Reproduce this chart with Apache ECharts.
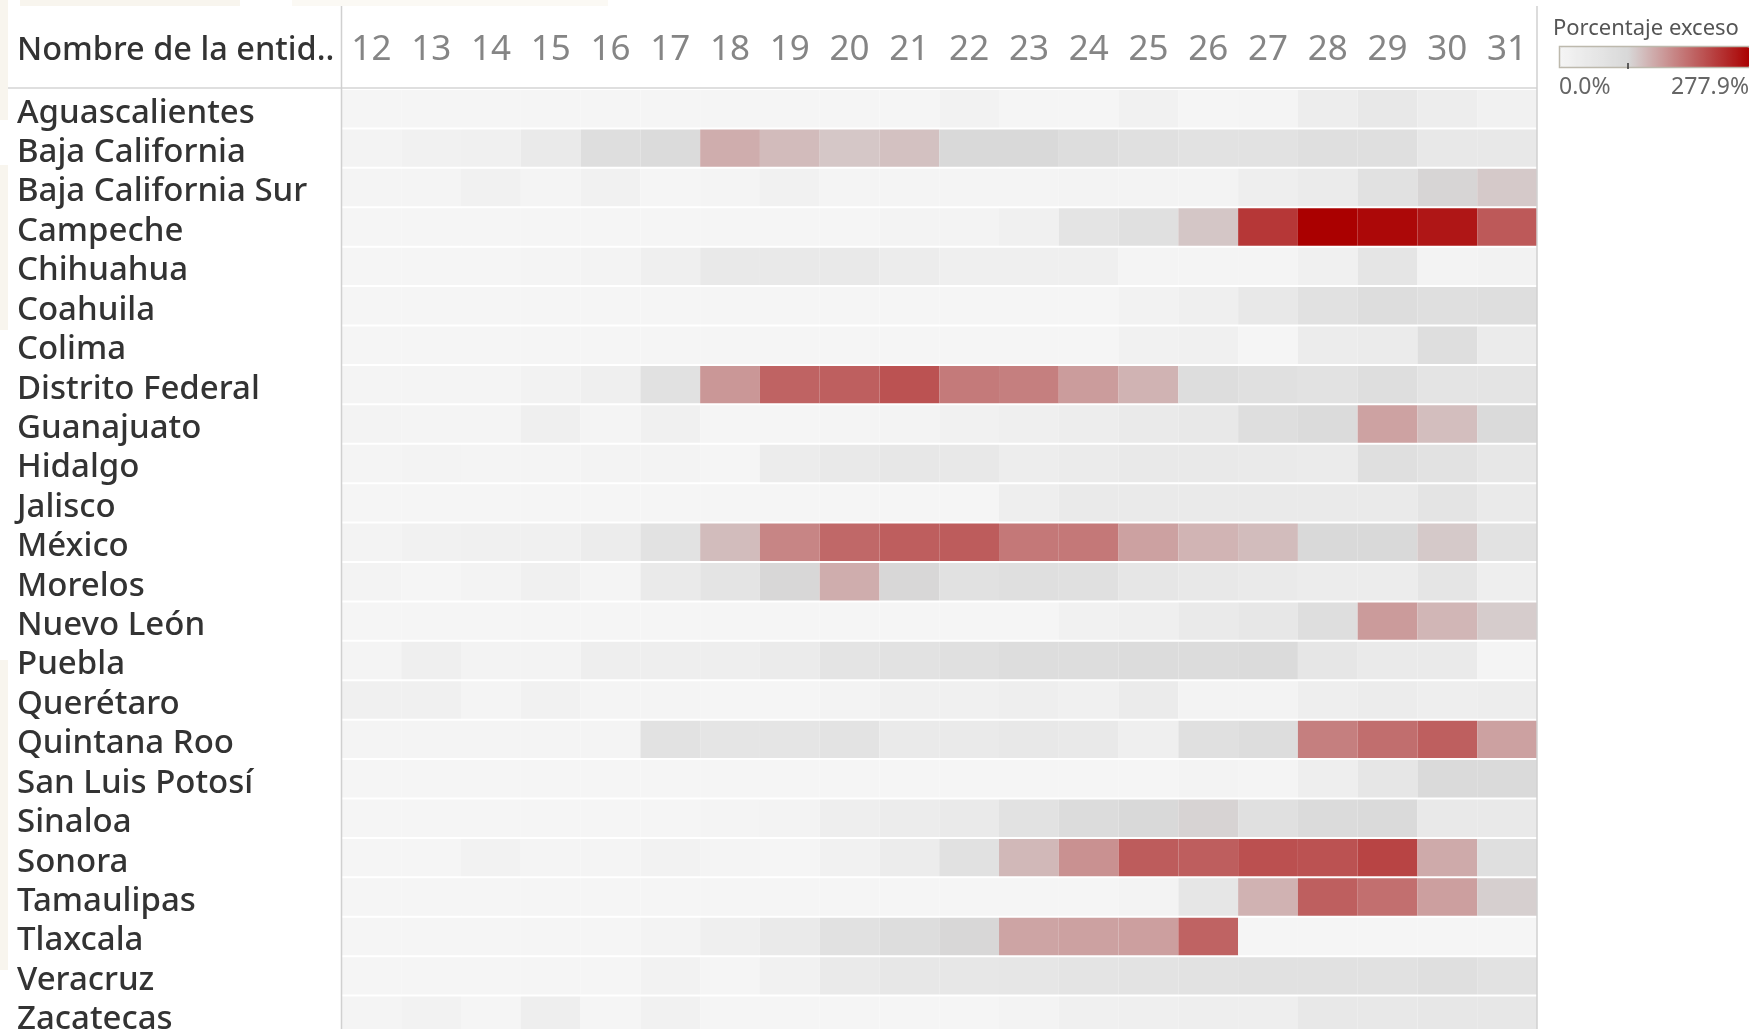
<!DOCTYPE html>
<html>
<head>
<meta charset="utf-8">
<style>
html, body { margin: 0; padding: 0; background: #fff; overflow: hidden; }
#main { width: 1749px; height: 1029px; }
</style>
<script src="https://cdn.jsdelivr.net/npm/echarts@6/dist/echarts.min.js"></script>
</head>
<body>
<div id="main"></div>
<script>
const days = ['12','13','14','15','16','17','18','19','20','21','22','23','24','25','26','27','28','29','30','31'];
const states = ['Aguascalientes','Baja California','Baja California Sur','Campeche','Chihuahua','Coahuila','Colima','Distrito Federal','Guanajuato','Hidalgo','Jalisco','México','Morelos','Nuevo León','Puebla','Querétaro','Quintana Roo','San Luis Potosí','Sinaloa','Sonora','Tamaulipas','Tlaxcala','Veracruz','Zacatecas'];

// porcentaje exceso, por estado, dias 12 a 31
const aguascalientes = [1,1,1,1,1,1,1,1,1,1,10,1,1,12,1,2,28,45,28,12];
const bajaCalifornia = [7,14,17,38,79,90,135,123,113,118,97,96,83,72,65,65,76,76,45,45];
const bajaCaliforniaSur = [3,4,14,2,14,1,3,14,4,2,2,2,7,7,7,24,34,69,102,112];
const campeche = [1,1,1,1,1,1,1,1,1,7,7,17,59,72,114,232,278,271,260,204];
const chihuahua = [1,1,1,2,6,20,41,41,41,31,20,20,20,3,3,3,17,55,7,10];
const coahuila = [1,1,1,1,1,1,1,1,1,1,1,1,1,10,20,45,69,83,76,79];
const colima = [1,1,1,1,1,1,1,1,1,1,1,1,1,14,17,1,31,34,79,34];
const distritoFederal = [2,2,4,10,20,69,153,196,199,210,177,173,149,130,83,72,65,79,59,59];
const guanajuato = [6,3,3,20,3,17,1,1,3,7,14,20,28,38,45,79,90,144,121,93];
const hidalgo = [2,6,2,3,6,6,1,31,41,48,45,28,34,41,41,38,34,76,65,48];
const jalisco = [1,1,1,1,1,1,1,1,1,1,1,24,38,38,38,38,38,38,59,38];
const mexico = [6,14,17,17,31,65,122,168,192,200,202,179,179,145,129,122,97,97,112,65];
const morelos = [6,0,6,17,2,38,59,100,135,100,69,76,72,52,45,38,31,31,55,24];
const nuevoLeon = [1,1,1,1,1,1,1,1,1,1,1,1,14,20,38,48,79,150,127,109];
const puebla = [3,20,6,6,24,24,24,34,59,65,72,83,83,86,86,90,52,38,38,3];
const queretaro = [17,17,2,14,2,2,1,1,7,17,17,24,17,34,7,7,24,31,24,28];
const quintanaRoo = [2,2,2,3,3,65,55,55,62,38,38,45,41,20,72,83,173,187,199,145];
const sanLuisPotosi = [1,1,1,1,1,1,1,1,1,1,1,1,1,1,6,3,24,52,93,93];
const sinaloa = [1,1,1,1,1,1,3,6,24,31,38,65,86,97,103,72,90,93,41,41];
const sonora = [1,1,10,2,3,10,2,1,14,31,69,126,158,202,200,212,210,222,137,76];
const tamaulipas = [1,1,1,1,1,1,1,1,1,1,1,1,1,6,52,131,199,186,146,107];
const tlaxcala = [1,1,1,1,1,6,20,38,69,83,100,142,145,146,196,0,0,0,0,0];
const veracruz = [1,1,1,1,1,10,1,14,38,48,48,52,59,62,65,69,69,69,76,65];
const zacatecas = [3,10,1,24,1,14,1,1,1,1,1,6,17,20,24,24,45,45,48,48];

const rows = [aguascalientes,bajaCalifornia,bajaCaliforniaSur,campeche,chihuahua,coahuila,colima,distritoFederal,guanajuato,hidalgo,jalisco,mexico,morelos,nuevoLeon,puebla,queretaro,quintanaRoo,sanLuisPotosi,sinaloa,sonora,tamaulipas,tlaxcala,veracruz,zacatecas];

const maxValue = 277.9;
const cellData = [];
rows.forEach(function (row, r) {
  row.forEach(function (v, c) {
    cellData.push([c, r, v]);
  });
});

// la rampa tiene el centro en 100%: 5 tramos grises y 9 hacia el rojo
function mix(a, b, t) {
  return 'rgb(' + a.map(function (x, i) { return Math.round(x + (b[i] - x) * t); }).join(',') + ')';
}
const ramp = [];
for (let i = 0; i <= 5; i++) ramp.push(mix([245,245,245], [216,216,216], i / 5));
for (let i = 1; i <= 9; i++) ramp.push(mix([216,216,216], [170,0,0], i / 9));

function patch(x, y, w, h, fill) {
  return { type: 'rect', silent: true, z: 0, shape: { x: x, y: y, width: w, height: h }, style: { fill: fill || '#f8f5ee' } };
}

const chart = echarts.init(document.getElementById('main'), null, { renderer: 'canvas' });
const font = '"Noto Sans", sans-serif';

chart.setOption({
  animation: false,
  backgroundColor: '#fff',
  grid: { left: 341.5, top: 89, width: 1195.5, height: 946, containLabel: false, outerBoundsMode: 'none' },
  xAxis: {
    type: 'category',
    position: 'top',
    data: days,
    axisLine: { show: false },
    axisTick: { show: false },
    splitLine: { show: false },
    axisLabel: { color: '#858585', fontFamily: font, fontSize: 35, margin: 21, interval: 0 }
  },
  yAxis: {
    type: 'category',
    inverse: true,
    data: states,
    axisLine: { show: false },
    axisTick: { show: false },
    splitLine: { show: false },
    axisLabel: {
      align: 'left',
      margin: 324.5,
      interval: 0,
      formatter: '{s|{value}}',
      rich: {
        s: { color: '#333', fontFamily: font, fontSize: 33, fontWeight: 500, padding: [9, 0, 0, 0] }
      }
    }
  },
  visualMap: {
    type: 'continuous',
    min: 0,
    max: maxValue,
    seriesIndex: 0,
    dimension: 2,
    orient: 'horizontal',
    calculable: false,
    realtime: false,
    left: 1560,
    top: 47,
    itemWidth: 20,
    itemHeight: 190,
    padding: 0,
    text: null,
    showLabel: false,
    inRange: { color: ramp }
  },
  series: [{
    type: 'custom',
    coordinateSystem: 'cartesian2d',
    encode: { x: 0, y: 1 },
    data: cellData,
    renderItem: function (params, api) {
      const p = api.coord([api.value(0), api.value(1)]);
      const s = api.size([1, 1]);
      return {
        type: 'rect',
        shape: { x: p[0] - s[0] / 2, y: p[1] - s[1] / 2 + 1, width: s[0], height: s[1] - 2 },
        style: { fill: api.visual('color') }
      };
    }
  }],
  graphic: [
    patch(0, 0, 8, 120), patch(0, 165, 8, 165), patch(0, 660, 8, 310),
    patch(0, 0, 6, 6), patch(20, 0, 220, 6), patch(292, 0, 316, 6, '#fbf9f4'),
    { type: 'line', silent: true, z: 10, shape: { x1: 8, y1: 88, x2: 1537, y2: 88 }, style: { stroke: '#d4d4d4', lineWidth: 1.5 } },
    { type: 'line', silent: true, z: 10, shape: { x1: 341.5, y1: 6, x2: 341.5, y2: 1029 }, style: { stroke: '#d0d0d0', lineWidth: 1.5 } },
    { type: 'line', silent: true, z: 10, shape: { x1: 1537, y1: 6, x2: 1537, y2: 1029 }, style: { stroke: '#d0d0d0', lineWidth: 1.5 } },
    { type: 'text', silent: true, z: 10, style: { x: 17, y: 51, text: 'Nombre de la entid..', font: '500 32.5px ' + font, fill: '#333', textVerticalAlign: 'middle' } },
    { type: 'text', silent: true, z: 10, style: { x: 1553, y: 29, text: 'Porcentaje exceso', font: '22px ' + font, fill: '#555', textVerticalAlign: 'middle' } },
    { type: 'text', silent: true, z: 10, style: { x: 1559, y: 87, text: '0.0%', font: '23px ' + font, fill: '#666', textVerticalAlign: 'middle' } },
    { type: 'text', silent: true, z: 10, style: { x: 1749, y: 87, text: '277.9%', font: '23px ' + font, fill: '#666', textAlign: 'right', textVerticalAlign: 'middle' } },
    { type: 'rect', silent: true, z: 10, shape: { x: 1559.5, y: 46.5, width: 195, height: 21 }, style: { fill: 'none', stroke: '#bdb9ad', lineWidth: 1.5 } },
    { type: 'line', silent: true, z: 11, shape: { x1: 1628, y1: 63, x2: 1628, y2: 69 }, style: { stroke: '#333', lineWidth: 1.5 } }
  ]
});
</script>
</body>
</html>
